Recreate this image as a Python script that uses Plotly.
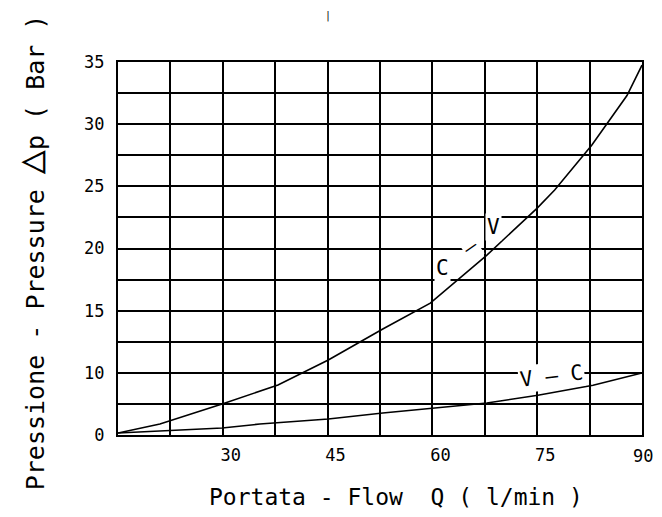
import plotly.graph_objects as go

# Flow (l/min) and pressure drop values
flow_cv = [15, 21.0, 29.9, 37.9, 45.1, 52.9, 59.7, 63.2, 67.8, 75.0, 77.5, 82.8, 87.85, 90]
press_cv = [5.16, 5.88, 7.49, 9.02, 11.03, 13.52, 15.61, 17.3, 19.47, 23.25, 24.7, 28.3, 32.3, 34.75]

flow_vc = [15, 29.9, 35.3, 45.1, 52.9, 60.1, 67.8, 75.1, 83.0, 90]
press_vc = [5.16, 5.56, 5.88, 6.29, 6.77, 7.17, 7.57, 8.2, 9.0, 9.99]

x_tickvals = [15, 22.5, 30, 37.5, 45, 52.5, 60, 67.5, 75, 82.5, 90]
x_ticktext = ["", "", "30", "", "45", "", "60", "", "75", "", ""]
x_last_label = "90"   # drawn separately so it stays inside the page
y_tickvals = [5, 7.5, 10, 12.5, 15, 17.5, 20, 22.5, 25, 27.5, 30, 32.5, 35]
y_ticktext = ["0", "", "10", "", "15", "", "20", "", "25", "", "30", "", "35"]

MONO = "DejaVu Sans Mono"
PAGE_OFFSET = 8  # default body margin of the html page

fig = go.Figure()
fig.add_trace(go.Scatter(x=flow_cv, y=press_cv, mode="lines",
                         line=dict(color="black", width=1.6), name="C - V"))
fig.add_trace(go.Scatter(x=flow_vc, y=press_vc, mode="lines",
                         line=dict(color="black", width=1.6), name="V - C"))

axis_common = dict(showgrid=True, gridcolor="black", gridwidth=1.5,
                   showline=True, linecolor="black", linewidth=2, mirror=True,
                   zeroline=False, ticks="", tickmode="array", automargin=False,
                   tickfont=dict(family=MONO, size=17, color="black"))

fig.update_xaxes(range=[15, 90], tickvals=x_tickvals, ticktext=x_ticktext,
                 ticklabelshift=8, ticklabelstandoff=4, **axis_common)
fig.update_yaxes(range=[5, 35], tickvals=y_tickvals, ticktext=y_ticktext,
                 ticklabelstandoff=8, **axis_common)

annotations = [
    dict(text=x_last_label, xref="x", yref="paper", x=x_tickvals[-1], y=0,
         xanchor="center", yanchor="top", xshift=1, yshift=-9, showarrow=False,
         font=dict(family=MONO, size=17, color="black")),
    dict(text="Portata - Flow  Q ( l/min )", xref="paper", yref="paper",
         x=(396 - 118) / 524, y=-(497 - 435) / 373, xanchor="center", yanchor="middle",
         showarrow=False, font=dict(family=MONO, size=23, color="black")),
    dict(text='Pressione - Pressure <span style="font-size:40px">△</span>p ( Bar )',
         xref="paper", yref="paper",
         x=-(118 - 30) / 524, y=0.49, xanchor="center", yanchor="middle",
         textangle=-90, showarrow=False,
         font=dict(family=MONO, size=25, color="black")),
    dict(text="C", xref="x", yref="y", x=61.5, y=18.4, showarrow=False,
         bgcolor="white", font=dict(family=MONO, size=21, color="black")),
    dict(text="–", xref="x", yref="y", x=65.4, y=20.1, showarrow=False,
         textangle=-35, bgcolor="white", font=dict(family=MONO, size=21, color="black")),
    dict(text="V", xref="x", yref="y", x=68.7, y=21.7, showarrow=False,
         bgcolor="white", font=dict(family=MONO, size=21, color="black")),
    dict(text="V – C", xref="x", yref="y", x=77.1, y=9.75, showarrow=False,
         textangle=-7, bgcolor="white", font=dict(family=MONO, size=21, color="black")),
    dict(text="|", xref="paper", yref="paper", x=(328 - 118) / 524, y=1 + 54 / 373,
         xanchor="center", yanchor="top", showarrow=False,
         font=dict(family=MONO, size=10, color="black")),
]

fig.update_layout(width=662 - 2 * PAGE_OFFSET, height=517 - 2 * PAGE_OFFSET,
                  margin=dict(l=118 - PAGE_OFFSET, r=12, t=62 - PAGE_OFFSET, b=74),
                  paper_bgcolor="white", plot_bgcolor="white",
                  showlegend=False, annotations=annotations)

fig.write_html("out.html")
